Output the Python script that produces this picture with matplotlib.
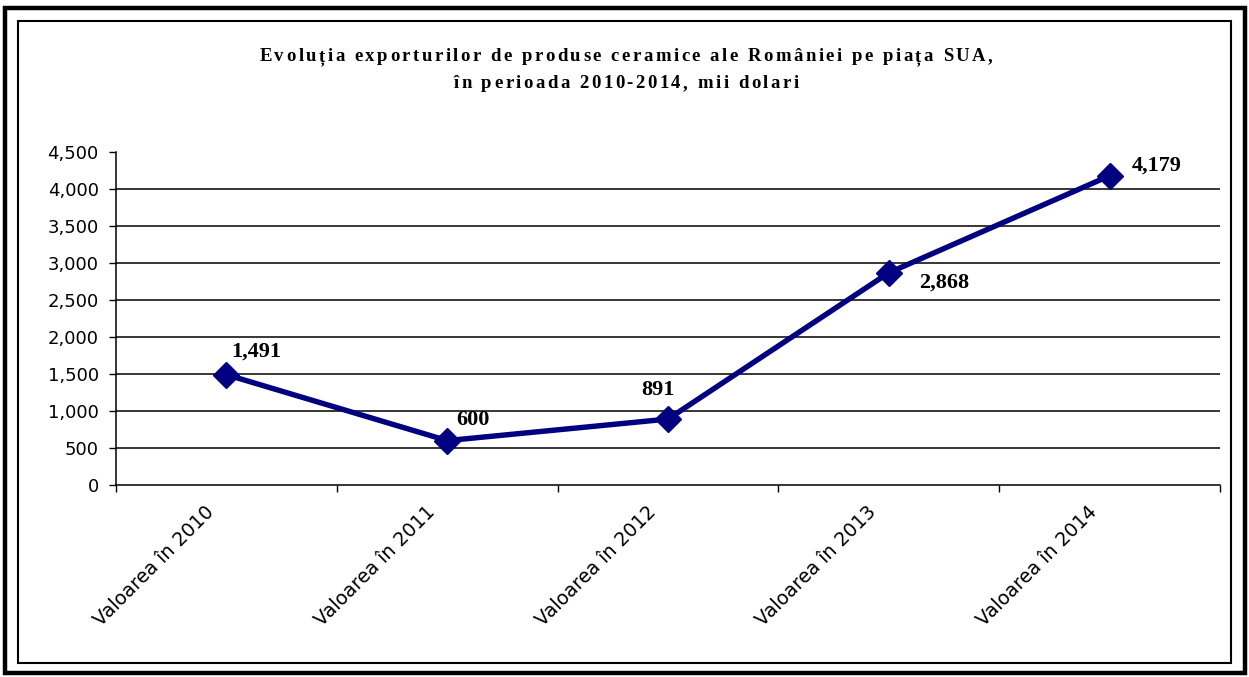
import matplotlib
matplotlib.use('Agg')
import matplotlib.pyplot as plt
import numpy as np
from matplotlib.patches import Rectangle
from matplotlib.ticker import FuncFormatter
from matplotlib import font_manager as fm
from matplotlib.ft2font import FT2Font
from matplotlib.transforms import offset_copy

# ---- data ----
categories = ['Valoarea în 2010', 'Valoarea în 2011', 'Valoarea în 2012',
              'Valoarea în 2013', 'Valoarea în 2014']
values = [1491, 600, 891, 2868, 4179]
y_ticks = [0, 500, 1000, 1500, 2000, 2500, 3000, 3500, 4000, 4500]
title_lines = ['Evoluția exporturilor de produse ceramice ale României pe piața SUA,',
               'în perioada 2010-2014, mii dolari']

# label offsets (points) for data labels
label_offsets = [(21.5, 16.5), (18.7, 15), (-7, 21), (40, -7), (34, 7)]

W, H = 1249, 677
fig = plt.figure(figsize=(W / 100, H / 100), dpi=100)


def fx(px):
    return px / W


def fy(py):
    return 1 - py / H


def spaced_text(xc, yb, s, size, spacing_pt, **kw):
    """Draw text centred at figure fraction xc, baseline yb, with letter spacing."""
    prop = fm.FontProperties(family='Liberation Serif', weight='bold', size=size)
    font = FT2Font(fm.findfont(prop))
    font.set_size(size, 72)
    advs = [font.load_char(ord(c)).linearHoriAdvance / 65536 for c in s]
    total = sum(advs) + spacing_pt * (len(s) - 1)
    pos = -total / 2
    for c, a in zip(s, advs):
        if c != ' ':
            tr = offset_copy(fig.transFigure, fig, x=pos, y=0, units='points')
            fig.text(xc, yb, c, transform=tr, ha='left', va='baseline',
                     fontproperties=prop, **kw)
        pos += a + spacing_pt


# borders
fig.patches.append(Rectangle((fx(5), fy(673)), fx(1245) - fx(5), fy(8) - fy(673),
                             transform=fig.transFigure, fill=False, lw=3.2,
                             edgecolor='black'))
fig.patches.append(Rectangle((fx(18), fy(663)), fx(1231) - fx(18), fy(21) - fy(663),
                             transform=fig.transFigure, fill=False, lw=1.5,
                             edgecolor='black'))

ax = fig.add_axes([fx(116), fy(485), fx(1220) - fx(116), fy(152) - fy(485)])
x = np.arange(len(categories))

for yt in y_ticks[1:-1]:
    ax.axhline(yt, color='black', lw=1.1, zorder=1)

ax.plot(x, values, color='#000080', lw=3.9, marker='D', ms=13,
        zorder=3, clip_on=False)

ax.set_xlim(-0.5, len(categories) - 0.5)
ax.set_ylim(0, 4500)
ax.set_yticks(y_ticks)
ax.yaxis.set_major_formatter(FuncFormatter(lambda v, p: f'{int(v):,}'))

# category boundary ticks, labels placed as rotated texts under each category
ax.set_xticks(np.arange(-0.5, len(categories), 1))
ax.set_xticklabels([])
label_tr = offset_copy(ax.get_xaxis_transform(), fig, x=-11, y=-17.5, units='points')
for i, cat in enumerate(categories):
    ax.text(x[i], 0, cat, transform=label_tr, rotation=45, ha='right',
            va='center', rotation_mode='anchor', fontsize=13.8,
            family='DejaVu Sans', clip_on=False)

ax.tick_params(axis='x', which='major', length=5, width=1, direction='out')
ax.tick_params(axis='y', length=5, width=1, direction='out', labelsize=13, pad=7.5)
for lab in ax.get_yticklabels():
    lab.set_family('DejaVu Sans')

for s in ['top', 'right']:
    ax.spines[s].set_visible(False)
for s in ['left', 'bottom']:
    ax.spines[s].set_linewidth(1.1)

for i, v in enumerate(values):
    ax.annotate(f'{v:,}', (x[i], v), xytext=label_offsets[i],
                textcoords='offset points', ha='center', va='center',
                family='Liberation Serif', weight='bold', fontsize=16,
                zorder=4)

spaced_text(fx(626), fy(61), title_lines[0], 13.5, 1.8)
spaced_text(fx(626), fy(88), title_lines[1], 13.5, 1.8)

fig.savefig('out.png', dpi=100)
